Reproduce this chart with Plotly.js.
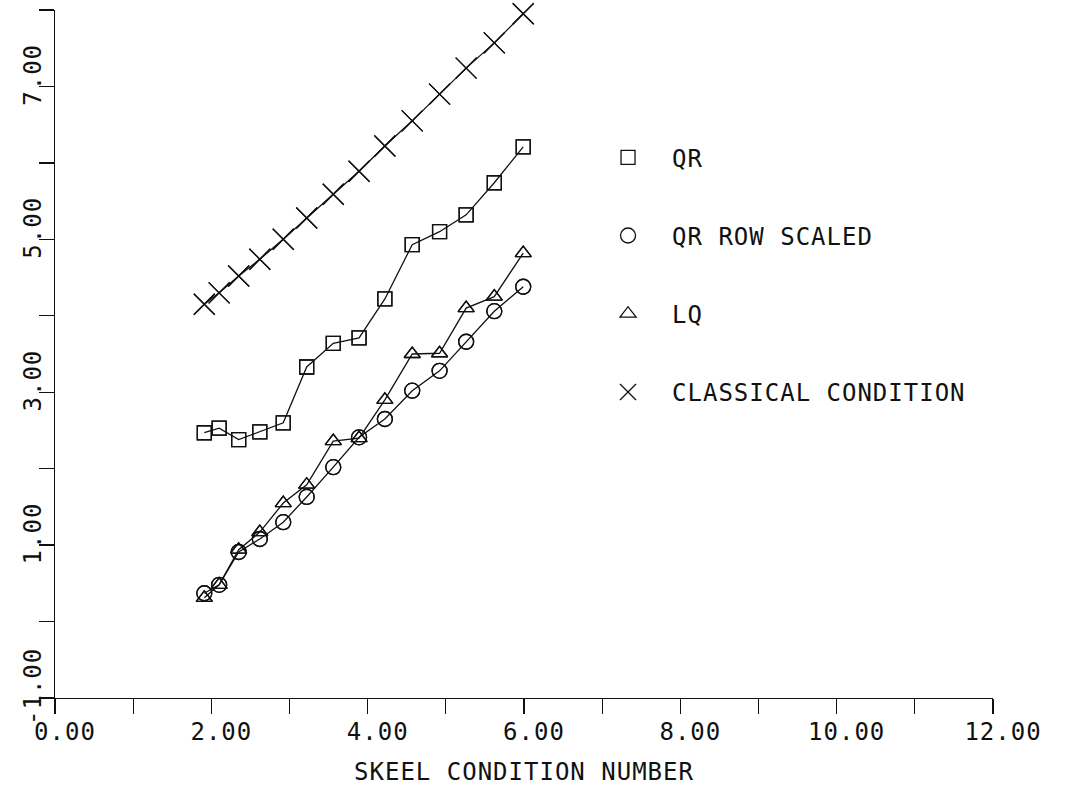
<!DOCTYPE html>
<html>
<head>
<meta charset="utf-8">
<script src="https://cdn.plot.ly/plotly-3.0.1.min.js"></script>
<style>
html, body { margin: 0; padding: 0; background: #fff; }
#chart { width: 1070px; height: 787px; }
svg text { letter-spacing: 1px; }
</style>
</head>
<body>
<div id="chart"></div>
<script>
// Skeel condition number (shared x positions)
const skeel = [1.91, 2.10, 2.35, 2.62, 2.92, 3.22, 3.56, 3.89, 4.22, 4.57, 4.92, 5.26, 5.62, 5.99];

const qr          = [2.47, 2.53, 2.38, 2.48, 2.60, 3.33, 3.64, 3.71, 4.22, 4.93, 5.10, 5.32, 5.74, 6.21];
const qrRowScaled = [0.37, 0.48, 0.91, 1.08, 1.30, 1.63, 2.02, 2.41, 2.65, 3.02, 3.28, 3.66, 4.06, 4.38];
const lq          = [0.31, 0.48, 0.94, 1.17, 1.55, 1.79, 2.36, 2.40, 2.90, 3.50, 3.51, 4.10, 4.25, 4.82];
const classical   = [4.15, 4.30, 4.52, 4.74, 5.00, 5.28, 5.59, 5.89, 6.22, 6.55, 6.90, 7.24, 7.57, 7.95];

const seriesNames = ["QR", "QR ROW SCALED", "LQ", "CLASSICAL CONDITION"];

const xTickVals = [0,1,2,3,4,5,6,7,8,9,10,11,12];
const xTickText = ["0.00","","2.00","","4.00","","6.00","","8.00","","10.00","","12.00"];
const yTickVals = [-1,0,1,2,3,4,5,6,7,8];
const yTickText = ["-1.00","","1.00","","3.00","","5.00","","7.00",""];

const FONT = "DejaVu Sans Mono, Liberation Mono, monospace";
const INK = "#111";

const series = [
  { y: qr,          name: seriesNames[0], symbol: "square-open",      size: 14, group: "a" },
  { y: qrRowScaled, name: seriesNames[1], symbol: "circle-open",      size: 15, group: "b" },
  { y: lq,          name: seriesNames[2], symbol: "triangle-up-open", size: 14, group: "c" },
  { y: classical,   name: seriesNames[3], symbol: "x-thin-open",      size: 21, group: "d" }
];

const traces = [];
series.forEach(s => {
  traces.push({
    x: skeel, y: s.y, name: s.name, type: "scatter", mode: "lines+markers",
    legendgroup: s.group, showlegend: false,
    line: { color: INK, width: 1.3 },
    marker: { symbol: s.symbol, size: s.size, color: INK, line: { color: INK, width: 1.3 } },
    cliponaxis: false
  });
  traces.push({
    x: skeel, y: s.y, name: s.name, type: "scatter", mode: "markers",
    legendgroup: s.group, showlegend: true,
    marker: { symbol: s.symbol, size: s.size, color: INK, line: { color: INK, width: 1.3 } },
    cliponaxis: false
  });
});

const layout = {
  width: 1070, height: 787,
  margin: { l: 55, r: 77, t: 10, b: 89 },
  paper_bgcolor: "#fff", plot_bgcolor: "#fff",
  font: { family: FONT, size: 24, color: INK },
  showlegend: true,
  legend: {
    x: 0.564, y: 0.818, xanchor: "left", yanchor: "top",
    bgcolor: "rgba(0,0,0,0)",
    traceorder: "grouped", tracegroupgap: 44,
    itemwidth: 78,
    font: { family: FONT, size: 24, color: INK }
  },
  xaxis: {
    range: [0, 12], tickmode: "array", tickvals: xTickVals, ticktext: xTickText,
    showgrid: false, zeroline: false, showline: true, linecolor: INK, linewidth: 1.3,
    ticks: "outside", ticklen: 15, tickwidth: 1.3, tickcolor: INK,
    ticklabelshift: 10, ticklabelstandoff: -3,
    title: { text: "SKEEL CONDITION NUMBER", font: { family: FONT, size: 24, color: INK }, standoff: 18 }
  },
  yaxis: {
    range: [-1, 8], tickmode: "array", tickvals: yTickVals, ticktext: yTickText,
    showgrid: false, zeroline: false, showline: true, linecolor: INK, linewidth: 1.3,
    ticks: "outside", ticklen: 15, tickwidth: 1.3, tickcolor: INK,
    tickangle: -90, ticklabelshift: -8, ticklabelstandoff: -12
  }
};

Plotly.newPlot("chart", traces, layout, { staticPlot: true, displayModeBar: false });
</script>
</body>
</html>
